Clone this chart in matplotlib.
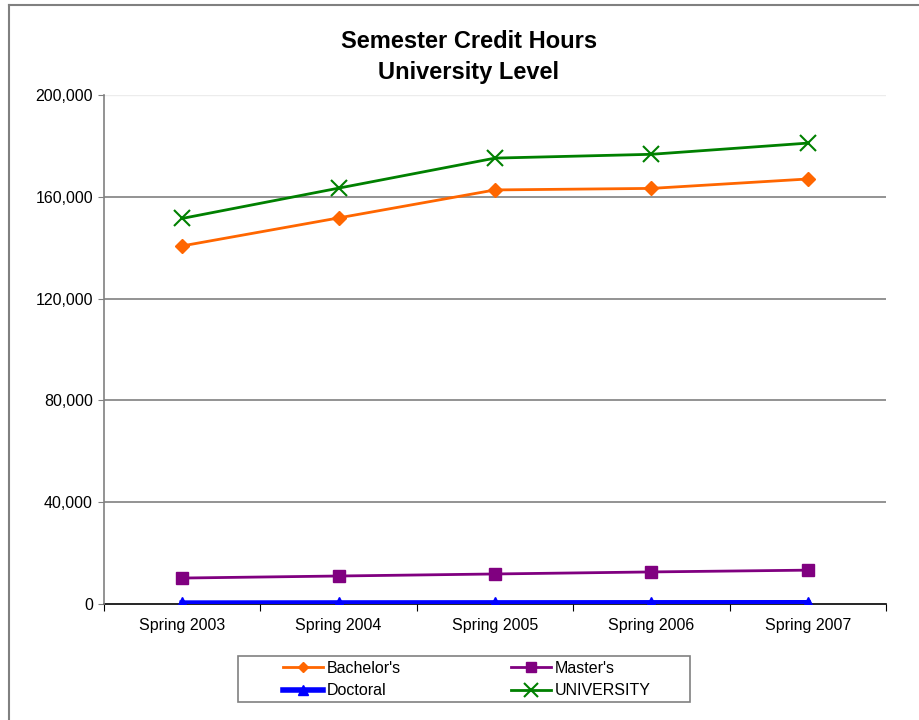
import matplotlib.pyplot as plt
import matplotlib.patches as mpatches
from matplotlib.lines import Line2D
from matplotlib.ticker import FuncFormatter, FixedLocator

plt.rcParams['font.family'] = ['Liberation Sans', 'DejaVu Sans']

terms = ["Spring 2003", "Spring 2004", "Spring 2005", "Spring 2006", "Spring 2007"]
bachelors = [140700, 151700, 162700, 163300, 167000]
masters = [10200, 11000, 11800, 12600, 13300]
doctoral = [350, 400, 430, 460, 480]
university = [151500, 163400, 175200, 176700, 181100]
y_ticks = [0, 40000, 80000, 120000, 160000, 200000]

W, H = 919, 720
fig = plt.figure(figsize=(W / 100, H / 100), dpi=100)
ax = fig.add_axes([104/W, 1 - 604/H, 782/W, 509/H])

# outer chart border: only its top and left edges are inside the image
fig.add_artist(Line2D([8.5/W, 1], [1 - 4.5/H, 1 - 4.5/H],
                      transform=fig.transFigure, color='#808080', linewidth=1.5))
fig.add_artist(Line2D([8.5/W, 8.5/W], [0, 1 - 4.5/H],
                      transform=fig.transFigure, color='#808080', linewidth=1.5))

x = list(range(len(terms)))

# gridlines
for v in y_ticks[1:-1]:
    ax.axhline(v, color='#808080', linewidth=1.2, zorder=1)
ax.axhline(y_ticks[-1], color='#ececec', linewidth=1, zorder=1)

ax.plot(x, bachelors, color='#FF6600', linewidth=2, marker='D', markersize=7,
        label="Bachelor's", zorder=3)
ax.plot(x, doctoral, color='#0000FF', linewidth=4, marker='^', markersize=9,
        label="Doctoral", zorder=3)
ax.plot(x, masters, color='#800080', linewidth=2, marker='s', markersize=9,
        label="Master's", zorder=3)
ax.plot(x, university, color='#008000', linewidth=2, marker='x', markersize=12,
        markeredgewidth=1.5, label="UNIVERSITY", zorder=3)

ax.set_xlim(-0.5, len(terms) - 0.5)
ax.set_ylim(0, 200000)

ax.set_yticks(y_ticks)
ax.yaxis.set_major_formatter(FuncFormatter(lambda v, p: f"{int(v):,}"))
ax.tick_params(axis='y', direction='out', length=4, color='#808080',
               labelsize=11.5, pad=4)

# category labels at centres, tick marks at boundaries
ax.xaxis.set_major_locator(FixedLocator([i - 0.5 for i in range(len(terms) + 1)]))
ax.xaxis.set_major_formatter(FuncFormatter(lambda v, p: ""))
ax.set_xticks(x, terms, minor=True)
ax.tick_params(axis='x', which='major', direction='out', length=5, color='black')
ax.tick_params(axis='x', which='minor', length=0, labelsize=11.5, pad=10)

for s in ['top', 'right']:
    ax.spines[s].set_visible(False)
ax.spines['left'].set_color('#808080')
ax.spines['left'].set_linewidth(1.2)
ax.spines['bottom'].set_color('black')
ax.spines['bottom'].set_linewidth(1.2)
ax.spines['bottom'].set_zorder(2)

fig.text(469/W, 1 - 42/H, "Semester Credit Hours", ha='center', va='center',
         fontsize=17, fontweight='bold')
fig.text(469/W, 1 - 73/H, "University Level", ha='center', va='center',
         fontsize=17, fontweight='bold')

# legend box drawn separately, wider than the entries
fig.add_artist(mpatches.Rectangle((238/W, 1 - 702/H), 452/W, 46/H,
                                  transform=fig.transFigure, fill=False,
                                  edgecolor='#808080', linewidth=1.2))
fig.legend(ncol=2, loc='center', bbox_to_anchor=(467/W, 1 - 679.5/H),
           fontsize=11.5, frameon=False,
           handlelength=2.5, handletextpad=0.25, columnspacing=6.9,
           borderpad=0, labelspacing=0.45, borderaxespad=0,
           markerscale=0.8)

fig.savefig("out.png", dpi=100)
